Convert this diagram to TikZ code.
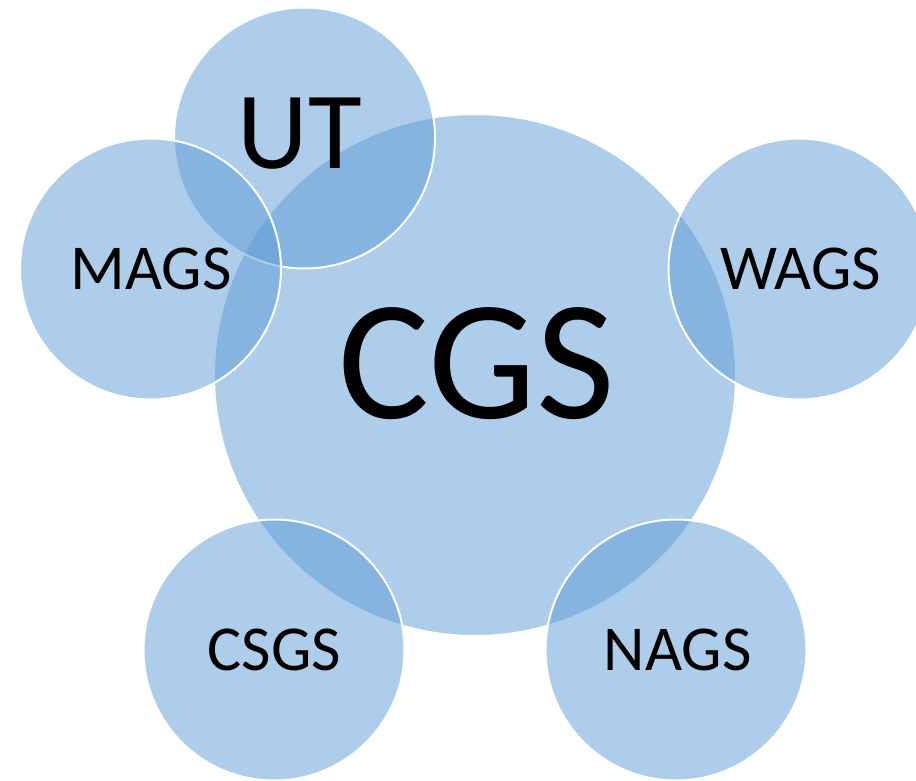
\documentclass[tikz,border=0pt]{standalone}
\usepackage{fontspec}
\setmainfont{Carlito}
\definecolor{bub}{HTML}{5B9BD5}
\begin{document}
\begin{tikzpicture}[x=1pt,y=-1pt,
  bubble/.style={circle,fill=bub,fill opacity=0.5,draw=white,line width=2pt,inner sep=0pt},
  lab/.style={anchor=base,inner sep=0pt,text=black}]
\useasboundingbox (0,0) rectangle (916,781);
\node[bubble,minimum size=522pt] (cgs) at (475,375) {};
\node[bubble,minimum size=261pt] (ut) at (304.5,138) {};
\node[bubble,minimum size=261pt] (mags) at (150.5,269) {};
\node[bubble,minimum size=261pt] (wags) at (799,269) {};
\node[bubble,minimum size=261pt] (csgs) at (274,650) {};
\node[bubble,minimum size=261pt] (nags) at (676,650) {};
\node[lab,font=\fontsize{171}{171}\selectfont] (tcgs) at (477,418) {CGS};
\node[lab,font=\fontsize{110}{110}\selectfont] (tut) at (300,168) {UT};
\node[lab,font=\fontsize{64}{64}\selectfont] (tmags) at (151,289) {MAGS};
\node[lab,font=\fontsize{64}{64}\selectfont] (twags) at (801,289) {WAGS};
\node[lab,font=\fontsize{64}{64}\selectfont] (tcsgs) at (274.5,670) {CSGS};
\node[lab,font=\fontsize{64}{64}\selectfont] (tnags) at (677.5,670) {NAGS};
\end{tikzpicture}
\end{document}
